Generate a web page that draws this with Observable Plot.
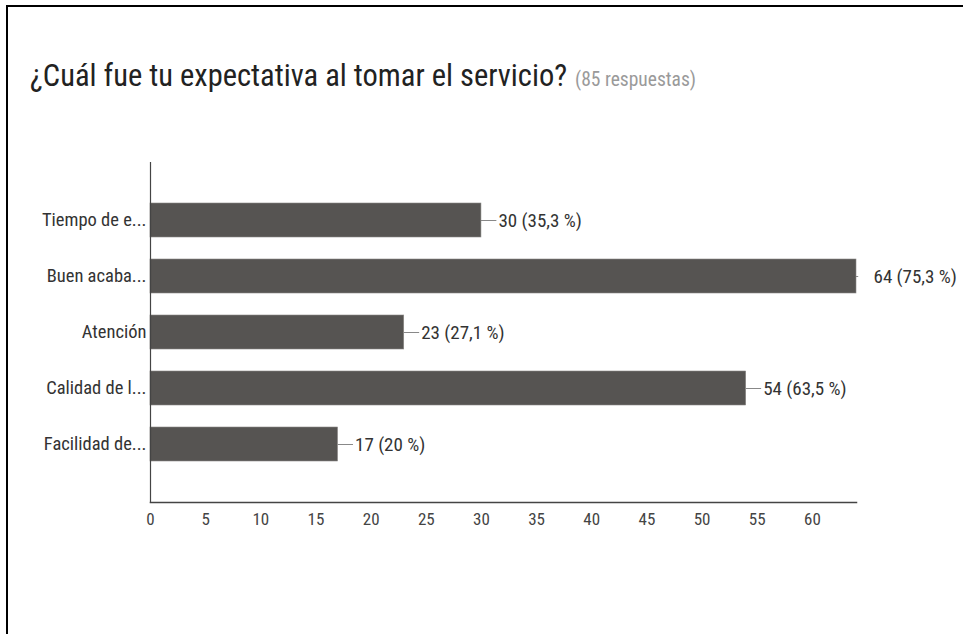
<!DOCTYPE html>
<html>
<head>
<meta charset="utf-8">
<script src="https://cdn.jsdelivr.net/npm/d3@7"></script>
<script src="https://cdn.jsdelivr.net/npm/@observablehq/plot@0.6"></script>
<style>
  html, body { margin: 0; padding: 0; background: #fff; }
  body { width: 963px; height: 634px; position: relative; overflow: hidden;
         font-family: "Liberation Sans Narrow", "Roboto Condensed", "Arial Narrow", sans-serif; }
  #frame { position: absolute; left: 6px; top: 5px; width: 980px; height: 700px;
           border-left: 2px solid #000; border-top: 2px solid #000; }
  #title { position: absolute; left: 30px; top: 58px; font-size: 30.5px; color: #222; white-space: nowrap; }
  #title span { font-size: 19.5px; color: #9a9a9a; margin-left: 8px; }
  #chart { position: absolute; left: 0; top: 0; }
</style>
</head>
<body>
<div id="frame"></div>
<div id="title">¿Cuál fue tu expectativa al tomar el servicio?<span>(85 respuestas)</span></div>
<div id="chart"></div>
<script>
const categories = ["Tiempo de e...", "Buen acaba...", "Atención", "Calidad de l...", "Facilidad de..."];
const counts = [30, 64, 23, 54, 17];
const percents = ["35,3", "75,3", "27,1", "63,5", "20"];
const xTicks = [0, 5, 10, 15, 20, 25, 30, 35, 40, 45, 50, 55, 60];

const rows = categories.map((c, i) => ({cat: c, value: counts[i], label: `${counts[i]} (${percents[i]} %)`}));
const maxV = d3.max(counts);
const normalRows = rows.filter(d => d.value !== maxV);
const maxRows = rows.filter(d => d.value === maxV);

const font = '"Liberation Sans Narrow", "Roboto Condensed", "Arial Narrow", sans-serif';

const plot = Plot.plot({
  width: 963,
  height: 634,
  marginLeft: 150,
  marginRight: 107,
  marginTop: 162,
  marginBottom: 132,
  style: {fontFamily: font, fontSize: "18px", color: "#333", background: "transparent"},
  x: {domain: [0, 64], label: null},
  y: {domain: categories, paddingInner: 0.4, paddingOuter: 0.71, label: null},
  marks: [
    Plot.barX(rows, {x: "value", y: "cat", fill: "#565452", stroke: "#8a8886", strokeWidth: 0.6}),
    Plot.ruleY(normalRows, {y: "cat", x1: "value", x2: d => d.value + 1.4, stroke: "#888", strokeWidth: 1}),
    Plot.ruleY(maxRows, {y: "cat", x1: "value", x2: d => d.value + 0.2, stroke: "#888", strokeWidth: 1}),
    Plot.text(rows, {y: "cat", x: "value", text: "label", textAnchor: "start", dx: 17, fill: "#333", fontSize: 19}),
    Plot.axisX({ticks: xTicks, tickSize: 0, tickPadding: 10, fontSize: 17, fill: "#444", label: null}),
    Plot.axisY({tickSize: 0, tickPadding: 4, fontSize: 18.5, fill: "#333", label: null}),
    Plot.frame({anchor: "left", stroke: "#444", strokeWidth: 1.2}),
    Plot.frame({anchor: "bottom", stroke: "#444", strokeWidth: 1.5})
  ]
});
document.getElementById("chart").appendChild(plot);
</script>
</body>
</html>
